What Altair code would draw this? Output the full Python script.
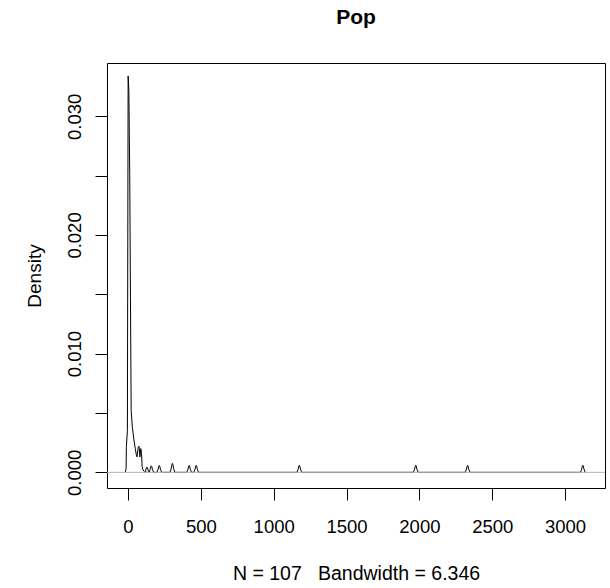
import altair as alt
import pandas as pd

# Density curve: x = Pop, y = density
main_x = [-19, -13, -11, -4, 1, 6, 12, 17, 22, 30, 40, 50, 57, 62, 70, 76, 82, 88, 93, 97, 103, 112, 122]
main_y = [0.00002, 0.0003, 0.0022, 0.0035, 0.0334, 0.0322, 0.0252, 0.0147, 0.0052, 0.0038, 0.0028,
          0.0020, 0.0015, 0.0013, 0.0021, 0.0022, 0.0013, 0.0020, 0.0016, 0.0005, 0.0002, 0.00008, 0.0]

# small isolated bumps (centre, peak height)
bump_centres = [130, 160, 215, 305, 420, 468, 1176, 1975, 2331, 3122]
bump_peaks = [0.00045, 0.00055, 0.00058, 0.00075, 0.00058, 0.00058, 0.00059, 0.00059, 0.00059, 0.00059]
bump_offsets = [-16, -8, -3, 0, 3, 8, 16]
bump_shape = [0.0, 0.45, 0.9, 1.0, 0.9, 0.45, 0.0]

x_ticks = [0, 500, 1000, 1500, 2000, 2500, 3000]
y_ticks = [0.0, 0.005, 0.010, 0.015, 0.020, 0.025, 0.030]

xs = list(main_x)
ys = list(main_y)
for c, p in zip(bump_centres, bump_peaks):
    for o, s in zip(bump_offsets, bump_shape):
        xs.append(c + o)
        ys.append(p * s)
pts = sorted(zip(xs, ys))
df = pd.DataFrame({"x": [p[0] for p in pts], "y": [p[1] for p in pts]})
df = pd.concat([df, pd.DataFrame({"x": [3143], "y": [0.0]})]).reset_index(drop=True)
df["order"] = range(len(df))

FONT = "Liberation Sans"
xscale = alt.Scale(domain=[-144, 3274], nice=False, zero=False)
yscale = alt.Scale(domain=[-0.00132, 0.03449], nice=False, zero=False)

base = alt.Chart(df)

line = base.mark_line(color="black", strokeWidth=1, clip=True).encode(
    x=alt.X("x:Q", scale=xscale,
            axis=alt.Axis(values=x_ticks, format="d", title="N = 107\u00a0\u00a0\u00a0Bandwidth = 6.346",
                          domain=False, grid=False, tickSize=12, tickColor="black",
                          labelFontSize=18.5, labelPadding=17, labelColor="black", labelFont=FONT,
                          titleFontSize=19.5, titleFontWeight="normal", titleFont=FONT,
                          titleColor="black", titlePadding=29)),
    y=alt.Y("y:Q", scale=yscale,
            axis=alt.Axis(values=y_ticks, title="Density",
                          labelExpr="round(datum.value*1000) % 10 == 0 ? format(datum.value, '.3f') : ''",
                          domain=False, grid=False, tickSize=12, tickColor="black",
                          labelAngle=270, labelFontSize=18.5, labelPadding=11, labelColor="black",
                          labelFont=FONT, titleFontSize=19, titleFontWeight="normal",
                          titleFont=FONT, titleColor="black", titlePadding=21)),
    order="order:Q",
)

zero_rule = alt.Chart(pd.DataFrame({"z": [0.0]})).mark_rule(color="#b4b4b4", strokeWidth=1).encode(
    y=alt.Y("z:Q", scale=yscale)
)

chart = alt.layer(line, zero_rule).properties(
    width=498,
    height=425,
    title=alt.TitleParams("Pop", fontSize=21, fontWeight="bold", font=FONT, anchor="middle",
                          baseline="bottom", offset=14, color="black"),
    autosize=alt.AutoSizeParams(type="none"),
    padding={"left": 107, "top": 63, "right": 5, "bottom": 100},
    background="white",
).configure_view(stroke="black", strokeWidth=1)

chart.save("out.html", embed_options={"renderer": "svg", "actions": False})
